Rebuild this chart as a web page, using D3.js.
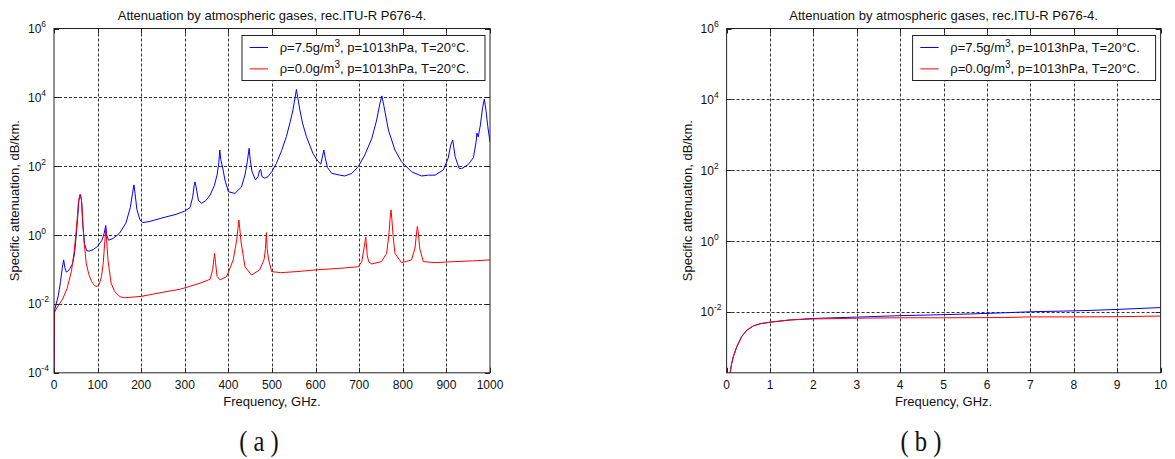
<!DOCTYPE html>
<html><head><meta charset="utf-8">
<script src="https://cdn.jsdelivr.net/npm/d3@7"></script>
<style>
body{margin:0;background:#fff}
svg{display:block}
text{font-family:"Liberation Sans",Arial,Helvetica,sans-serif;fill:#111}
</style></head>
<body><svg id="c" width="1175" height="459"></svg>
<script>
// ---------- DATA ----------
const titleText = "Attenuation by atmospheric gases, rec.ITU-R P676-4.";
const xLabel = "Frequency, GHz.";
const yLabel = "Specific attenuation, dB/km.";
const legendLabels = [["ρ=7.5g/m","3",", p=1013hPa, T=20°C."],["ρ=0.0g/m","3",", p=1013hPa, T=20°C."]];
const seriesColors = ["#0000ff","#ff0000"];

// Panel (a): 0-1000 GHz
const xTicksA = [0,100,200,300,400,500,600,700,800,900,1000];
const yTicksA = [1e-4,1e-2,1,1e2,1e4,1e6];
const yTickExpA = ["-4","-2","0","2","4","6"];
const freqBlueA = [0,1,5,10,15,19,22.2,25,28,31,36,42,47,51,54,57,60,63,66,70,75,80,90,100,110,115,118.7,121,125,135,150,165,175,180,183.3,186,190,197,204,220,250,280,300,312,318,321.5,323.5,326,331,338,348,358,368,374,378,380.2,382.5,387,392,400,415,430,438,443,447.5,450,454,462,468,471.5,474,477,483,491,500,510,522,533,542,548,553,556,559,564,570,579,594,605,612,616,619,622,627,637,656,667,683,698,713,729,740,747.7,752,757,767,782,797,820,843,859,874,893,904,910,914.5,920,929,935,950,962,968,970,973,978,983,987,991,995,1000];
const valBlueA = [0.0001,0.0063,0.010,0.0178,0.0447,0.112,0.19,0.112,0.085,0.087,0.105,0.141,0.282,1.0,2.82,10,15.1,10.5,2.0,0.56,0.355,0.34,0.38,0.47,0.71,1.12,1.9,1.0,0.71,0.79,1.12,2.24,6.3,15.8,28.8,15.8,5.6,2.8,2.3,2.5,3.2,4.0,5.0,6.3,12.6,28,35,25,10.5,8.3,10,14.5,28,56,126,295,158,89,40,18.2,16.2,25,56,126,331,158,71,40,50,76,81,50,45,50,71,120,282,724,2000,4270,10000,17000,10000,4270,1780,724,234,141,115,200,295,178,93,62,55,52,62,98,214,646,2190,6760,11000,5370,1120,295,135,69,52,55,55,78,170,417,575,191,87,85,112,178,501,912,708,1585,5010,8900,3980,1410,501];
const freqRedA = [0,1,5,10,20,30,40,46,50,53,56,58.5,60.3,62,64,66.5,69,74,80,86,93,99,104,109,113,116.5,118.7,121,124,131,139,151,162,200,250,290,335,358,364,366.5,368.3,370.5,374,381,396,411,419,422,424,426,429,438,453,472,482,485,487,489,492,499,520,557,603,650,698,706,711.5,715,718.5,722,729,751,763,768,771,773,775,778,782,797,820,828,831,833.5,836,839,847,874,920,960,1000];
const valRedA = [0.0001,0.0056,0.0071,0.0089,0.0141,0.0282,0.089,0.316,1.0,2.82,8.9,13.2,15.1,13.2,7.9,2.0,0.63,0.151,0.071,0.045,0.034,0.032,0.038,0.063,0.158,0.63,1.51,0.63,0.178,0.040,0.023,0.0162,0.0151,0.0166,0.0219,0.0269,0.040,0.052,0.1,0.19,0.295,0.158,0.063,0.050,0.062,0.19,0.72,1.58,2.75,1.58,0.63,0.12,0.069,0.098,0.2,0.4,1.17,0.4,0.2,0.087,0.081,0.087,0.098,0.107,0.12,0.17,0.45,0.87,0.25,0.166,0.145,0.17,0.295,1.0,3.16,5.4,2.8,0.89,0.295,0.158,0.19,0.42,1.0,1.78,1.0,0.4,0.17,0.158,0.17,0.178,0.19];

// Panel (b): 0-10 GHz
const xTicksB = [0,1,2,3,4,5,6,7,8,9,10];
const yTicksB = [1e-2,1,1e2,1e4,1e6];
const yTickExpB = ["-2","0","2","4","6"];
const freqBlueB = [0.078,0.117,0.155,0.232,0.347,0.462,0.616,0.77,1.0,1.46,2.0,3.0,4.0,4.76,5.6,6.4,7.07,7.76,8.4,9.0,10];
const valBlueB = [0.00018,0.00035,0.00054,0.00102,0.0020,0.0030,0.0040,0.0046,0.0051,0.0059,0.0065,0.0071,0.0078,0.0082,0.0087,0.0094,0.0101,0.0105,0.0110,0.0117,0.0132];
const freqRedB = [0.078,0.117,0.155,0.232,0.347,0.462,0.616,0.77,1.0,1.46,2.0,3.0,4.0,5.0,6.4,7.0,8.0,9.0,10];
const valRedB = [0.00018,0.00035,0.00054,0.00102,0.0020,0.0030,0.0040,0.0046,0.0051,0.0059,0.0063,0.0066,0.0068,0.0068,0.0069,0.0072,0.0072,0.0073,0.0076];

const captions = ["( a )","( b )"];

// ---------- DRAW ----------
const svg = d3.select("#c");
svg.append("rect").attr("width",1175).attr("height",459).attr("fill","#fff");

const panels = [
  {id:"a", x0:54, x1:490, y0:28.5, y1:372.8, xd:[0,1000], yd:[1e-4,1e6], xt:xTicksA, yt:yTicksA, ye:yTickExpA,
   series:[[freqBlueA,valBlueA],[freqRedA,valRedA]], cap:captions[0], capX:259},
  {id:"b", x0:726.6, x1:1160.6, y0:28.5, y1:372.8, xd:[0,10], yd:[1.9e-4,1e6], xt:xTicksB, yt:yTicksB, ye:yTickExpB,
   series:[[freqBlueB,valBlueB],[freqRedB,valRedB]], cap:captions[1], capX:921}
];

const axisCol = "#222";
panels.forEach(p => {
  const x = d3.scaleLinear().domain(p.xd).range([p.x0,p.x1]);
  const y = d3.scaleLog().domain(p.yd).range([p.y1,p.y0]);
  const g = svg.append("g");

  g.append("clipPath").attr("id","clip"+p.id).append("rect")
    .attr("x",p.x0).attr("y",p.y0).attr("width",p.x1-p.x0).attr("height",p.y1-p.y0);

  // grid
  const grid = g.append("g").attr("stroke","#333").attr("stroke-width",1).attr("stroke-dasharray","3,2").attr("fill","none");
  p.xt.slice(1,-1).forEach(v => grid.append("line").attr("x1",Math.round(x(v))+0.5).attr("x2",Math.round(x(v))+0.5).attr("y1",p.y0).attr("y2",p.y1));
  p.yt.forEach(v => { const yy = y(v); if (yy > p.y0+1 && yy < p.y1-1) grid.append("line").attr("x1",p.x0).attr("x2",p.x1).attr("y1",Math.round(yy)+0.5).attr("y2",Math.round(yy)+0.5); });

  // series
  const line = d3.line().x(d=>x(d[0])).y(d=>y(d[1]));
  p.series.forEach((s,i) => {
    const pts = s[0].map((f,k)=>[f,s[1][k]]);
    g.append("path").attr("d",line(pts)).attr("fill","none").attr("stroke",seriesColors[i])
      .attr("stroke-width",1).attr("clip-path","url(#clip"+p.id+")");
  });

  // box
  g.append("rect").attr("x",p.x0).attr("y",p.y0).attr("width",p.x1-p.x0).attr("height",p.y1-p.y0)
    .attr("fill","none").attr("stroke",axisCol).attr("stroke-width",1);

  // ticks (inward, all four sides)
  const tk = g.append("g").attr("stroke",axisCol).attr("stroke-width",1);
  p.xt.forEach(v => {
    const xx = Math.round(x(v))+0.5;
    tk.append("line").attr("x1",xx).attr("x2",xx).attr("y1",p.y1).attr("y2",p.y1-5);
    tk.append("line").attr("x1",xx).attr("x2",xx).attr("y1",p.y0).attr("y2",p.y0+5);
  });
  p.yt.forEach(v => {
    const yy = Math.round(y(v))+0.5;
    tk.append("line").attr("x1",p.x0).attr("x2",p.x0+5).attr("y1",yy).attr("y2",yy);
    tk.append("line").attr("x1",p.x1).attr("x2",p.x1-5).attr("y1",yy).attr("y2",yy);
  });

  // tick labels
  p.xt.forEach(v => g.append("text").attr("x",x(v)).attr("y",388.5).attr("text-anchor","middle")
    .attr("font-size",12).text(v));
  p.yt.forEach((v,k) => {
    const t = g.append("text").attr("x",p.x0-26).attr("y",y(v)+4.5).attr("font-size",12);
    t.append("tspan").text("10");
    t.append("tspan").attr("dy",-6).attr("font-size",8.5).text(p.ye[k]);
  });

  // labels
  const cx = (p.x0+p.x1)/2;
  g.append("text").attr("x",cx).attr("y",19.5).attr("text-anchor","middle").attr("font-size",13).text(titleText);
  g.append("text").attr("x",cx).attr("y",406).attr("text-anchor","middle").attr("font-size",13).text(xLabel);
  g.append("text").attr("transform",`translate(${p.x0-35},${(p.y0+p.y1)/2}) rotate(-90)`)
    .attr("text-anchor","middle").attr("font-size",13).text(yLabel);

  // legend
  const lw = 243, lh = 45, lx = p.x1-5-lw, ly = p.y0+7;
  const lg = g.append("g");
  lg.append("rect").attr("x",lx).attr("y",ly).attr("width",lw).attr("height",lh)
    .attr("fill","#fff").attr("stroke",axisCol).attr("stroke-width",1);
  [12,33.4].forEach((dy,i) => {
    lg.append("line").attr("x1",lx+7.7).attr("x2",lx+26).attr("y1",ly+dy).attr("y2",ly+dy)
      .attr("stroke",seriesColors[i]).attr("stroke-width",1);
    const t = lg.append("text").attr("x",lx+37.7).attr("y",ly+dy+4.5).attr("font-size",13);
    t.append("tspan").text(legendLabels[i][0]);
    t.append("tspan").attr("dy",-5).attr("font-size",10).text(legendLabels[i][1]);
    t.append("tspan").attr("dy",5).text(legendLabels[i][2]);
  });

  // caption
  g.append("text").attr("transform",`translate(${p.capX},451) scale(0.82,1)`).attr("text-anchor","middle")
    .style("font-family","'Liberation Serif','Times New Roman',serif").attr("font-size",30).text(p.cap);
});
</script></body></html>
